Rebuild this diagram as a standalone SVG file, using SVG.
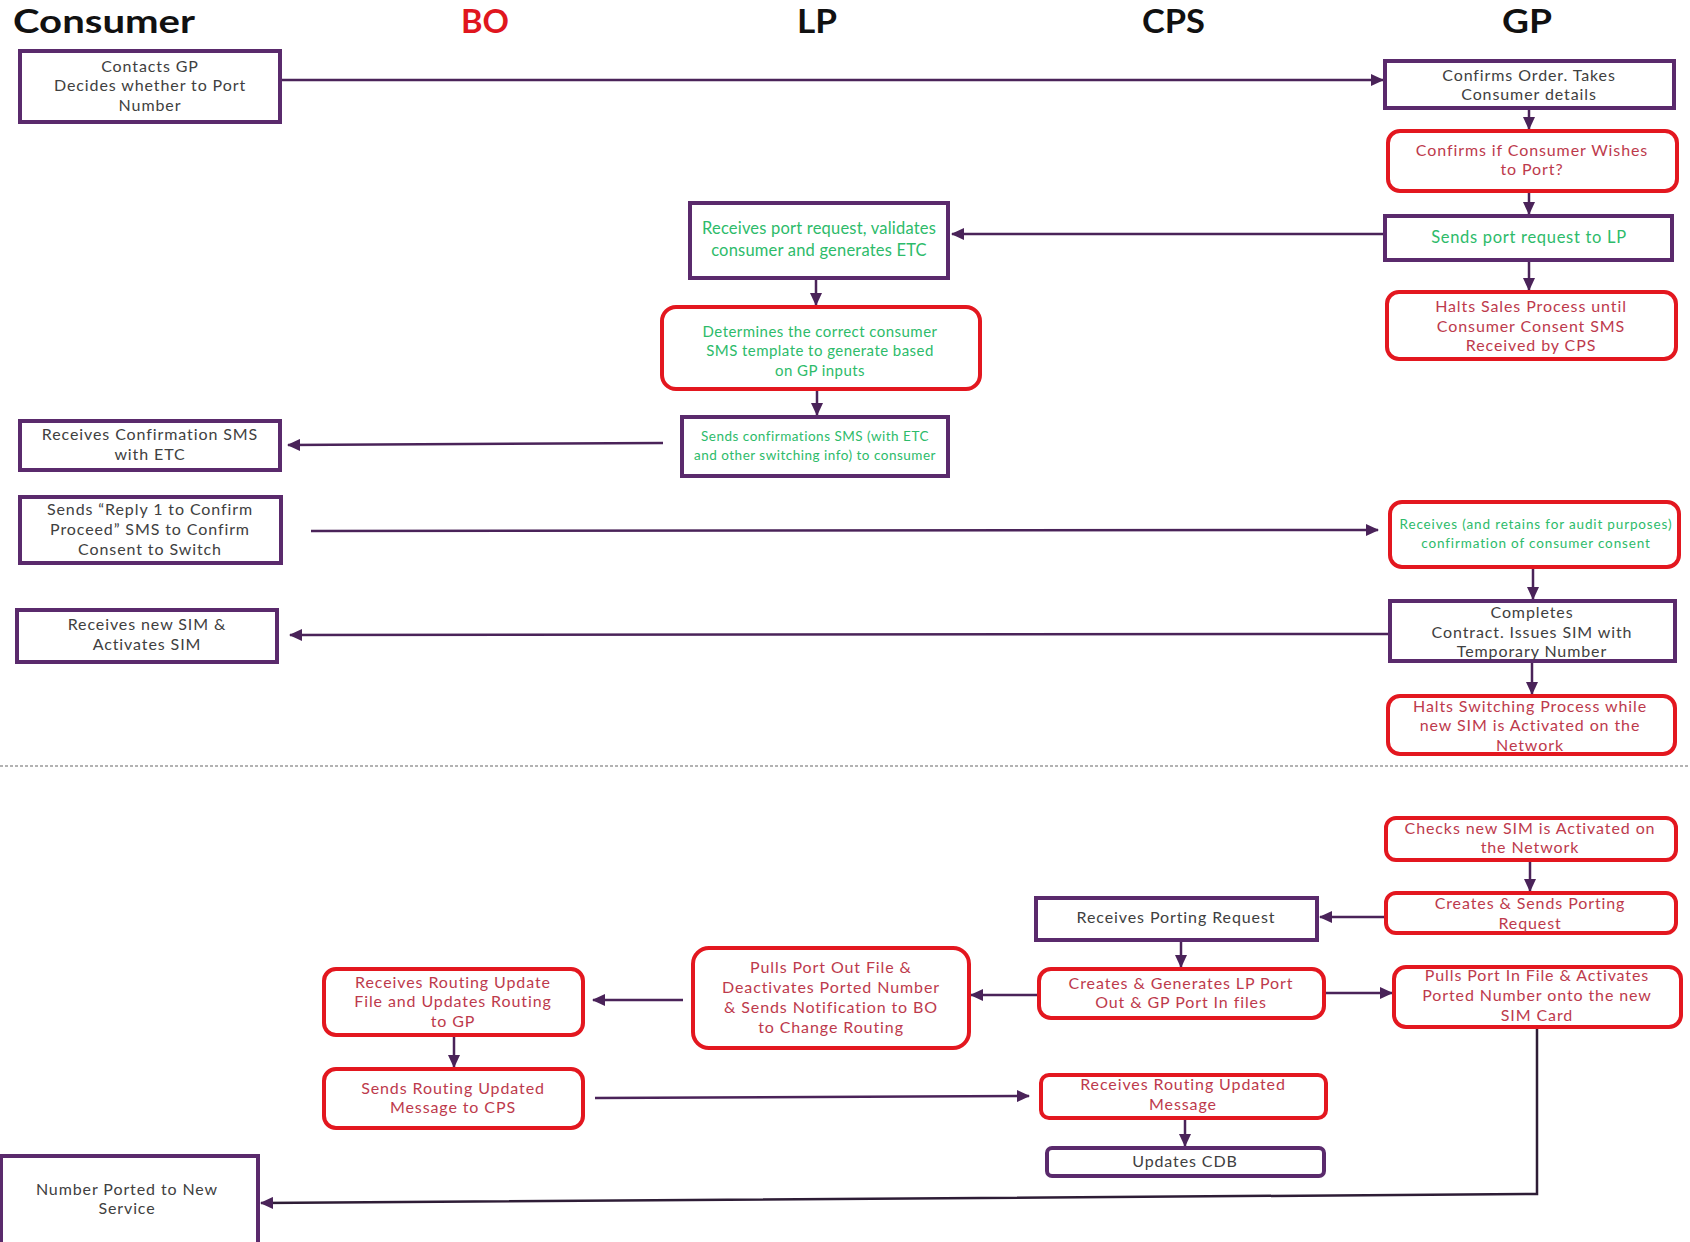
<svg xmlns="http://www.w3.org/2000/svg" width="1690" height="1242" viewBox="0 0 1690 1242">
<style>
.bg{fill:#fff}
.pbox{fill:#fff;stroke:#5a2a6c;stroke-width:4}
.rbox{fill:#fff;stroke:#e3171f;stroke-width:4}
.t{font-family:Lato,"Liberation Sans",sans-serif;font-size:16px;letter-spacing:0.9px;fill:#404040;text-anchor:middle}
.tr{fill:#bd3a4c}
.tg{fill:#2dbb6a}
.g16{font-size:16.5px;letter-spacing:0.2px}
.g15{font-size:15px;letter-spacing:0.45px}
.gs{font-size:13.5px;letter-spacing:0.5px}
.gs2{font-size:13.5px;letter-spacing:0.85px}
.h{font-family:Lato,"Liberation Sans",sans-serif;font-size:32px;font-weight:bold;fill:#111}
.conn{fill:none;stroke:#4a2359;stroke-width:2.5}
</style>
<defs>
<marker id="ah" markerUnits="userSpaceOnUse" markerWidth="13" markerHeight="12" viewBox="0 0 13 12" refX="12" refY="6" orient="auto">
<path d="M0,0 L13,6 L0,12 Z" fill="#4a2359"/>
</marker>
</defs>
<rect class="bg" x="0" y="0" width="1690" height="1242"/>

<g id="headers">
<text class="h" x="13" y="33" textLength="182" lengthAdjust="spacingAndGlyphs">Consumer</text>
<text class="h" x="461" y="33" textLength="48" lengthAdjust="spacingAndGlyphs" style="fill:#e0161e">BO</text>
<text class="h" x="797" y="33" textLength="40" lengthAdjust="spacingAndGlyphs">LP</text>
<text class="h" x="1142" y="33" textLength="63" lengthAdjust="spacingAndGlyphs">CPS</text>
<text class="h" x="1502" y="33" textLength="50" lengthAdjust="spacingAndGlyphs">GP</text>
</g>

<line x1="0" y1="766" x2="1690" y2="766" stroke="#9a9a9a" stroke-width="1.5" stroke-dasharray="3 2"/>

<g id="connectors">
<path class="conn" d="M280,80 H1383" marker-end="url(#ah)"/>
<path class="conn" d="M1385,234 H952" marker-end="url(#ah)"/>
<path class="conn" d="M663,443 L288,445" marker-end="url(#ah)"/>
<path class="conn" d="M311,531 L1378,530" marker-end="url(#ah)"/>
<path class="conn" d="M1388,634 L290,635" marker-end="url(#ah)"/>
<path class="conn" d="M1386,917 H1320" marker-end="url(#ah)"/>
<path class="conn" d="M1324,993 H1392" marker-end="url(#ah)"/>
<path class="conn" d="M1039,995 H971" marker-end="url(#ah)"/>
<path class="conn" d="M683,1000 H593" marker-end="url(#ah)"/>
<path class="conn" d="M595,1098 L1029,1096" marker-end="url(#ah)"/>
<path class="conn" d="M1537,1027 V1194 L261,1203" marker-end="url(#ah)" style="stroke:#2e1d36"/>
<path class="conn" d="M1529,108 V129" marker-end="url(#ah)"/>
<path class="conn" d="M1529,191 V214" marker-end="url(#ah)"/>
<path class="conn" d="M1529,260 V290" marker-end="url(#ah)"/>
<path class="conn" d="M816,278 V305" marker-end="url(#ah)"/>
<path class="conn" d="M817,389 V415" marker-end="url(#ah)"/>
<path class="conn" d="M1533,567 V599" marker-end="url(#ah)"/>
<path class="conn" d="M1532,661 V694" marker-end="url(#ah)"/>
<path class="conn" d="M1530,860 V891" marker-end="url(#ah)"/>
<path class="conn" d="M1181,940 V967" marker-end="url(#ah)"/>
<path class="conn" d="M454,1035 V1067" marker-end="url(#ah)"/>
<path class="conn" d="M1185,1118 V1146" marker-end="url(#ah)"/>
</g>

<g id="c1"><rect class="pbox" x="20" y="51" width="260" height="71"/>
<text class="t" x="150" y="72">Contacts GP</text><text class="t" x="150" y="91">Decides whether  to Port</text><text class="t" x="150" y="111">Number</text></g>

<g id="c2"><rect class="pbox" x="20" y="421" width="260" height="49"/>
<text class="t" x="150" y="440">Receives Confirmation SMS</text><text class="t" x="150" y="460">with ETC</text></g>

<g id="c3"><rect class="pbox" x="20" y="497" width="261" height="66"/>
<text class="t" x="150" y="515">Sends “Reply 1 to Confirm</text><text class="t" x="150" y="535">Proceed” SMS to Confirm</text><text class="t" x="150" y="555">Consent to Switch</text></g>

<g id="c4"><rect class="pbox" x="17" y="610" width="260" height="52"/>
<text class="t" x="147" y="630">Receives new SIM &amp;</text><text class="t" x="147" y="650">Activates SIM</text></g>

<g id="c5"><rect class="pbox" x="1" y="1156" width="257" height="100"/>
<text class="t" x="127" y="1195">Number Ported to New</text><text class="t" x="127" y="1214">Service</text></g>

<g id="lp1"><rect class="pbox" x="690" y="203" width="258" height="75"/>
<text class="t tg g16" x="819" y="234">Receives port request, validates</text><text class="t tg g16" x="819" y="256">consumer and generates ETC</text></g>

<g id="lp2"><rect class="rbox" x="662" y="307" width="318" height="82" rx="14"/>
<text class="t tg g15" x="820" y="337">Determines the correct consumer</text><text class="t tg g15" x="820" y="356">SMS template to generate based</text><text class="t tg g15" x="820" y="376">on GP inputs</text></g>

<g id="lp3"><rect class="pbox" x="682" y="417" width="266" height="59"/>
<text class="t tg gs" x="815" y="441">Sends confirmations SMS (with ETC</text><text class="t tg gs" x="815" y="460">and other switching info) to consumer</text></g>

<g id="gp1"><rect class="pbox" x="1385" y="61" width="289" height="47"/>
<text class="t" x="1529" y="81">Confirms Order. Takes</text><text class="t" x="1529" y="100">Consumer details</text></g>

<g id="gp2"><rect class="rbox" x="1388" y="131" width="289" height="60" rx="12"/>
<text class="t tr" x="1532" y="156">Confirms if Consumer Wishes</text><text class="t tr" x="1532" y="175">to Port?</text></g>

<g id="gp3"><rect class="pbox" x="1385" y="216" width="287" height="44"/>
<text class="t tg g16" x="1529" y="243" style="letter-spacing:0.7px">Sends port request to LP</text></g>

<g id="gp4"><rect class="rbox" x="1387" y="292" width="289" height="67" rx="12"/>
<text class="t tr" x="1531" y="312">Halts Sales Process until</text><text class="t tr" x="1531" y="332">Consumer Consent SMS</text><text class="t tr" x="1531" y="351">Received by CPS</text></g>

<g id="gp5"><rect class="rbox" x="1390" y="502" width="289" height="65" rx="12"/>
<text class="t tg gs2" x="1536" y="529">Receives (and retains for audit purposes)</text><text class="t tg gs2" x="1536" y="548">confirmation of consumer consent</text></g>

<g id="gp6"><rect class="pbox" x="1390" y="601" width="285" height="60"/>
<text class="t" x="1532" y="618">Completes</text><text class="t" x="1532" y="638">Contract. Issues SIM with</text><text class="t" x="1532" y="657">Temporary Number</text></g>

<g id="gp7"><rect class="rbox" x="1388" y="696" width="287" height="58" rx="12"/>
<text class="t tr" x="1530" y="712">Halts Switching Process while</text><text class="t tr" x="1530" y="731">new SIM is Activated on the</text><text class="t tr" x="1530" y="751">Network</text></g>

<g id="gp8"><rect class="rbox" x="1386" y="818" width="290" height="42" rx="10"/>
<text class="t tr" x="1530" y="834">Checks new SIM is Activated on</text><text class="t tr" x="1530" y="853">the Network</text></g>

<g id="gp9"><rect class="rbox" x="1386" y="893" width="290" height="40" rx="10"/>
<text class="t tr" x="1530" y="909">Creates &amp; Sends Porting</text><text class="t tr" x="1530" y="929">Request</text></g>

<g id="gp10"><rect class="rbox" x="1394" y="967" width="287" height="60" rx="12"/>
<text class="t tr" x="1537" y="981">Pulls Port In File &amp; Activates</text><text class="t tr" x="1537" y="1001">Ported Number onto the new</text><text class="t tr" x="1537" y="1021">SIM Card</text></g>

<g id="cps1"><rect class="pbox" x="1036" y="898" width="281" height="42"/>
<text class="t" x="1176" y="923">Receives Porting Request</text></g>

<g id="cps2"><rect class="rbox" x="1039" y="969" width="285" height="49" rx="12"/>
<text class="t tr" x="1181" y="989">Creates &amp; Generates  LP Port</text><text class="t tr" x="1181" y="1008">Out &amp; GP Port In files</text></g>

<g id="cps3"><rect class="rbox" x="1041" y="1075" width="285" height="43" rx="8"/>
<text class="t tr" x="1183" y="1090">Receives Routing Updated</text><text class="t tr" x="1183" y="1110">Message</text></g>

<g id="cps4"><rect class="pbox" x="1047" y="1148" width="277" height="28" rx="5"/>
<text class="t" x="1185" y="1167">Updates CDB</text></g>

<g id="lp4"><rect class="rbox" x="693" y="948" width="276" height="100" rx="16"/>
<text class="t tr" x="831" y="973">Pulls Port Out File &amp;</text><text class="t tr" x="831" y="993">Deactivates Ported Number</text><text class="t tr" x="831" y="1013">&amp; Sends Notification to BO</text><text class="t tr" x="831" y="1033">to Change Routing</text></g>

<g id="bo1"><rect class="rbox" x="324" y="969" width="259" height="66" rx="12"/>
<text class="t tr" x="453" y="988">Receives Routing Update</text><text class="t tr" x="453" y="1007">File and Updates Routing</text><text class="t tr" x="453" y="1027">to GP</text></g>

<g id="bo2"><rect class="rbox" x="324" y="1069" width="259" height="59" rx="12"/>
<text class="t tr" x="453" y="1094">Sends Routing Updated</text><text class="t tr" x="453" y="1113">Message to CPS</text></g>
</svg>
